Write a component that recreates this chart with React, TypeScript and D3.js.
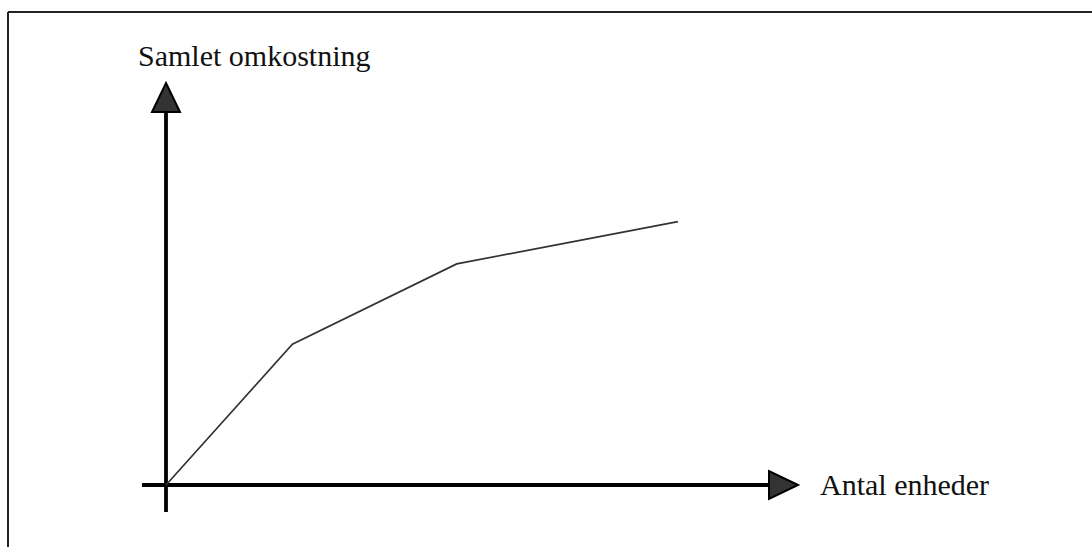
import React from "react";
import * as d3 from "d3";

const units = [0, 2.0, 4.6, 8.1];
const totalCost = [0, 3.5, 5.5, 6.55];
const xLabel = "Antal enheder";
const yLabel = "Samlet omkostning";

const W = 1092;
const H = 547;

export default function App() {
  const x = d3.scaleLinear().domain([0, 10]).range([166, 798]);
  const y = d3.scaleLinear().domain([0, 10]).range([485, 83]);
  const pts = units.map((u, i) => [u, totalCost[i]] as [number, number]);
  const line = d3
    .line<[number, number]>()
    .x((d) => x(d[0]))
    .y((d) => y(d[1]));

  const x0 = x(0);
  const y0 = y(0);
  const yTip = y(10);
  const xTip = x(10);
  const headLen = 29;
  const headHalf = 14;

  return (
    <svg
      width={W}
      height={H}
      style={{ position: "absolute", left: 0, top: 0, background: "#fff" }}
      fontFamily="'Liberation Serif', 'Times New Roman', serif"
    >
      <rect x={0} y={0} width={W} height={H} fill="#fff" />
      {/* frame */}
      <line x1={8} y1={12} x2={W} y2={12} stroke="#222" strokeWidth={2} />
      <line x1={8} y1={12} x2={8} y2={H} stroke="#222" strokeWidth={2} />

      {/* y axis */}
      <line x1={x0} y1={y(-0.67)} x2={x0} y2={yTip + headLen} stroke="#000" strokeWidth={3.8} />
      <path
        d={`M${x0},${yTip} L${x0 + headHalf},${yTip + headLen} L${x0 - headHalf},${yTip + headLen} Z`}
        fill="#333"
        stroke="#000"
        strokeWidth={2}
        strokeLinejoin="miter"
      />
      {/* x axis */}
      <line x1={x(-0.38)} y1={y0} x2={xTip - headLen} y2={y0} stroke="#000" strokeWidth={3.8} />
      <path
        d={`M${xTip},${y0} L${xTip - headLen},${y0 - headHalf} L${xTip - headLen},${y0 + headHalf} Z`}
        fill="#333"
        stroke="#000"
        strokeWidth={2}
      />

      {/* cost curve */}
      <path d={line(pts) ?? ""} fill="none" stroke="#333" strokeWidth={1.7} />

      <text x={138} y={66} fontSize={30} fill="#111">
        {yLabel}
      </text>
      <text x={820} y={495} fontSize={30} fill="#111">
        {xLabel}
      </text>
    </svg>
  );
}
